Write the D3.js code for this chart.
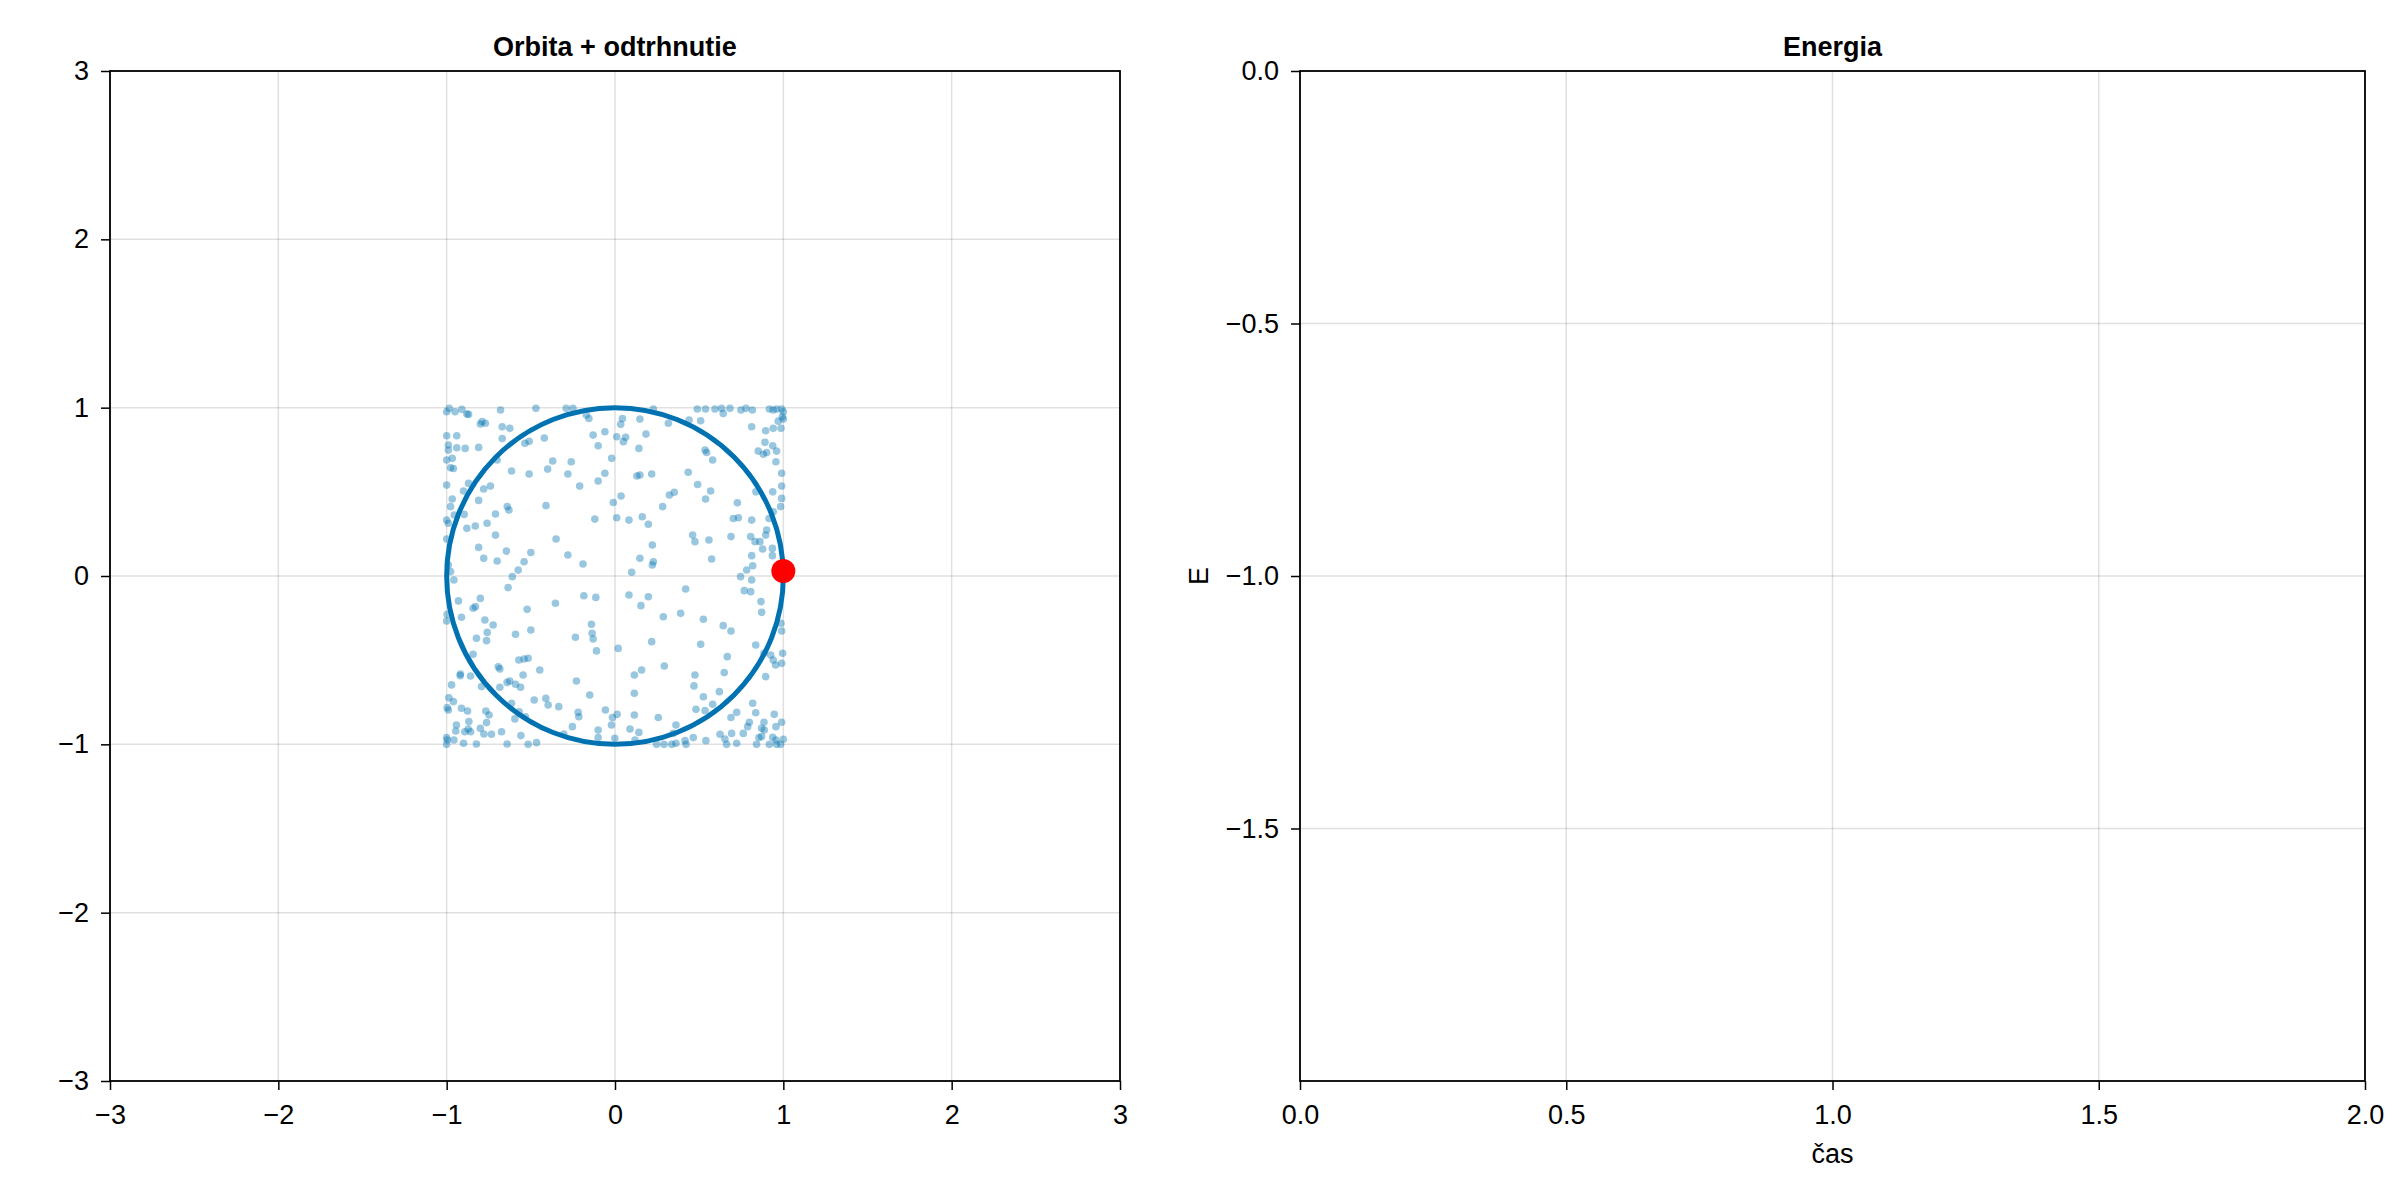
<!DOCTYPE html>
<html>
<head>
<meta charset="utf-8">
<script src="https://cdn.jsdelivr.net/npm/d3@7"></script>
<style>
  html, body { margin: 0; padding: 0; background: #fff; }
  svg { display: block; }
  text { font-family: "Liberation Sans", Arial, Helvetica, sans-serif; }
</style>
</head>
<body>
<svg id="chart" width="2400" height="1200"></svg>
<script>
// ---------------- DATA ----------------
const leftTitle = "Orbita + odtrhnutie";
const rightTitle = "Energia";
const rightXLabel = "čas";
const rightYLabel = "E";

const leftTicks = [-3, -2, -1, 0, 1, 2, 3];
const rightXTicks = [0, 0.5, 1, 1.5, 2];
const rightYTicks = [0, -0.5, -1, -1.5];

const orbitCenter = [0, 0];
const orbitRadius = 1;
const bodyPoint = [1.0, 0.03];

const scatterPoints = [
  [-1.00,0.976],[-0.985,0.996],[-0.95,0.976],[-0.91,0.99],[-0.88,0.962],[-0.87,0.96],[-0.68,0.986],[-0.47,0.996],
  [-0.29,0.996],[-0.25,0.996],[-0.17,0.956],[-0.155,0.936],[-0.80,0.903],[-0.79,0.917],[-0.77,0.907],[-0.67,0.887],
  [-0.625,0.877],[-1.00,0.833],[-0.94,0.833],[-0.67,0.817],[-0.99,0.778],[-0.99,0.748],[-0.94,0.762],[-0.89,0.758],
  [-0.81,0.764],[-0.535,0.788],[-0.51,0.80],[-0.42,0.82],[-0.13,0.837],[-0.06,0.857],[0.01,0.827],[-0.10,0.774],
  [-1.00,0.689],[-0.967,0.699],[-0.977,0.643],[-0.96,0.639],[-0.70,0.689],[-0.615,0.624],[-0.51,0.606],[-0.40,0.635],
  [-0.37,0.683],[-0.26,0.679],[-0.28,0.606],[-0.06,0.61],[-0.02,0.699],[-0.10,0.564],[-0.21,0.534],[-1.00,0.54],
  [-0.87,0.55],[-0.90,0.505],[-0.78,0.517],[-0.74,0.534],[-0.81,0.449],[-0.967,0.457],[-0.977,0.412],[-0.64,0.412],
  [-0.63,0.392],[-0.41,0.418],[-0.71,0.368],[-0.896,0.366],[-0.955,0.362],[-1.00,0.332],[-0.99,0.313],[-0.88,0.283],
  [-0.83,0.297],[-0.76,0.313],[-0.71,0.243],[-1.00,0.22],[-0.35,0.22],[-0.12,0.338],[-0.01,0.437],[0.01,0.346],
  [-0.81,0.17],[-0.645,0.148],[-0.50,0.14],[-0.28,0.125],[-0.78,0.105],[-0.70,0.089],[-0.54,0.085],[-0.19,0.071],
  [-0.575,0.035],[-0.61,-0.004],[-0.99,0.065],[-0.977,0.026],[-0.957,-0.024],

  [0.228,0.992],[0.489,0.992],[0.538,0.992],[0.594,0.992],[0.633,0.996],[0.643,0.966],[0.683,0.996],[0.748,0.986],
  [0.778,0.996],[0.816,0.986],[0.917,0.992],[0.94,0.986],[0.96,0.992],[0.99,0.992],[1.0,0.976],[0.994,0.946],
  [1.0,0.932],[0.97,0.92],[0.044,0.936],[0.034,0.901],[0.148,0.932],[0.317,0.907],[0.44,0.926],[0.509,0.922],
  [0.05,0.798],[0.063,0.824],[0.184,0.843],[0.142,0.758],[0.535,0.748],[0.544,0.734],[0.58,0.689],[0.812,0.887],
  [0.895,0.863],[0.94,0.877],[0.986,0.877],[0.891,0.794],[0.937,0.774],[0.96,0.742],[0.851,0.742],[0.881,0.723],
  [0.901,0.734],[0.956,0.679],[0.99,0.61],[0.13,0.594],[0.148,0.6],[0.218,0.606],[0.435,0.616],[0.491,0.544],
  [0.568,0.505],[0.538,0.457],[0.323,0.481],[0.352,0.497],[0.283,0.412],[0.036,0.475],[0.99,0.534],[0.937,0.5],
  [0.837,0.5],[0.99,0.461],[0.984,0.412],[0.94,0.382],[0.727,0.435],[0.703,0.342],[0.733,0.346],[0.812,0.332],
  [0.915,0.342],[0.083,0.332],[0.162,0.352],[0.198,0.307],[0.461,0.243],[0.475,0.204],[0.558,0.214],[0.689,0.234],
  [0.806,0.234],[0.832,0.204],[0.861,0.204],[0.901,0.273],[0.895,0.243],[0.877,0.16],[0.935,0.164],[0.222,0.184],
  [0.148,0.105],[0.228,0.085],[0.222,0.065],[0.574,0.101],[0.812,0.121],[0.935,0.121],[0.782,0.036],[0.818,0.061],
  [0.746,-0.004],[0.099,0.022],

  [-0.635,-0.069],[-0.185,-0.117],[-0.114,-0.127],[-0.80,-0.133],[-0.93,-0.148],[-0.843,-0.192],[-0.829,-0.182],
  [-0.522,-0.198],[-0.354,-0.162],[-0.997,-0.228],[-1.0,-0.267],[-0.912,-0.245],[-0.773,-0.261],[-0.724,-0.291],
  [-0.759,-0.335],[-0.763,-0.384],[-0.823,-0.37],[-0.591,-0.346],[-0.50,-0.321],[-0.235,-0.364],[-0.14,-0.287],
  [-0.136,-0.34],[-0.13,-0.374],[-0.11,-0.445],[0.019,-0.43],[-0.843,-0.465],[-0.694,-0.539],[-0.684,-0.552],
  [-0.571,-0.499],[-0.54,-0.493],[-0.516,-0.489],[-0.447,-0.558],[-0.918,-0.582],[-0.92,-0.592],[-0.858,-0.594],
  [-0.546,-0.588],[-0.625,-0.624],[-0.641,-0.632],[-0.591,-0.643],[-0.684,-0.661],[-0.561,-0.661],[-0.793,-0.657],
  [-0.971,-0.647],[-0.229,-0.624],[-0.15,-0.707],[-0.987,-0.723],[-0.96,-0.746],[-0.997,-0.782],[-0.99,-0.796],
  [-0.912,-0.786],[-0.876,-0.802],[-0.767,-0.802],[-0.748,-0.826],[-0.615,-0.756],[-0.48,-0.737],[-0.411,-0.727],
  [-0.397,-0.766],[-0.334,-0.776],[-0.569,-0.806],[-0.532,-0.836],[-0.595,-0.849],[-0.219,-0.81],[-0.215,-0.836],
  [-0.057,-0.796],[0.013,-0.822],[-0.015,-0.841],[-0.021,-0.885],[-0.868,-0.865],[-0.942,-0.885],[-0.763,-0.871],
  [-0.80,-0.905],[-0.872,-0.909],[-0.946,-0.921],[-0.892,-0.925],[-0.858,-0.925],[-0.779,-0.939],[-0.734,-0.94],
  [-0.674,-0.925],[-0.559,-0.948],[-0.304,-0.939],[-0.253,-0.895],[-0.10,-0.915],[-0.10,-0.96],[-0.001,-0.964],
  [-1.0,-0.96],[-0.997,-0.974],[-1.0,-1.0],[-0.957,-0.974],[-0.90,-0.994],[-0.823,-0.998],[-0.641,-0.998],
  [-0.516,-1.0],[-0.466,-0.99],

  [0.812,-0.024],[0.768,-0.087],[0.806,-0.093],[0.42,-0.077],[0.083,-0.113],[0.198,-0.123],[0.154,-0.176],
  [0.867,-0.152],[0.871,-0.216],[0.287,-0.242],[0.39,-0.222],[0.525,-0.257],[0.643,-0.295],[0.689,-0.327],
  [0.986,-0.281],[0.99,-0.327],[0.218,-0.39],[0.509,-0.406],[0.836,-0.41],[0.667,-0.479],[0.885,-0.459],
  [0.925,-0.469],[0.996,-0.459],[0.99,-0.519],[0.954,-0.529],[0.94,-0.499],[0.293,-0.535],[0.115,-0.588],
  [0.158,-0.558],[0.475,-0.588],[0.649,-0.574],[0.895,-0.598],[0.469,-0.653],[0.115,-0.697],[0.525,-0.717],
  [0.62,-0.687],[0.58,-0.762],[0.818,-0.756],[0.481,-0.792],[0.535,-0.8],[0.723,-0.81],[0.836,-0.812],
  [0.689,-0.841],[0.115,-0.826],[0.257,-0.841],[0.946,-0.822],[0.99,-0.869],[0.885,-0.869],[0.798,-0.869],
  [0.956,-0.895],[0.788,-0.895],[0.887,-0.915],[0.871,-0.905],[0.089,-0.909],[0.142,-0.929],[0.362,-0.885],
  [0.346,-0.935],[0.762,-0.935],[0.855,-0.96],[0.871,-0.954],[0.937,-0.958],[0.956,-0.974],[1.0,-0.97],
  [0.624,-0.94],[0.693,-0.935],[0.653,-0.968],[0.465,-0.96],[0.416,-0.978],[0.54,-0.978],[0.119,-0.974],
  [0.247,-1.0],[0.291,-1.0],[0.337,-1.0],[0.362,-0.994],[0.422,-1.0],[0.663,-1.0],[0.723,-0.994],[0.841,-1.0],
  [0.917,-1.0],[0.96,-1.0],[0.984,-1.0]
];

// ---------------- LAYOUT ----------------
const svg = d3.select("#chart");
svg.append("rect").attr("width", 2400).attr("height", 1200).attr("fill", "#fff");

const blue = "#0072B2";
const gridColor = "rgba(0,0,0,0.12)";
const fontSize = 27;

const L = { x0: 110, x1: 1120, y0: 71, y1: 1081 };
const R = { x0: 1300, x1: 2365, y0: 71, y1: 1081 };

const xL = d3.scaleLinear().domain([-3, 3]).range([L.x0, L.x1]);
const yL = d3.scaleLinear().domain([-3, 3]).range([L.y1, L.y0]);
const xR = d3.scaleLinear().domain([0, 2]).range([R.x0, R.x1]);
const yR = d3.scaleLinear().domain([-2, 0]).range([R.y1, R.y0]);

function grid(g, xs, ys, xt, yt, box) {
  g.selectAll(".gx").data(xt).enter().append("line")
    .attr("x1", d => xs(d)).attr("x2", d => xs(d))
    .attr("y1", box.y0).attr("y2", box.y1)
    .attr("stroke", gridColor).attr("stroke-width", 1.5);
  g.selectAll(".gy").data(yt).enter().append("line")
    .attr("x1", box.x0).attr("x2", box.x1)
    .attr("y1", d => ys(d)).attr("y2", d => ys(d))
    .attr("stroke", gridColor).attr("stroke-width", 1.5);
}

function styleAxis(g) {
  g.select(".domain").remove();
  g.selectAll(".tick line").attr("stroke", "#000").attr("stroke-width", 1.5);
  g.selectAll(".tick text").attr("fill", "#000")
    .style("font-size", fontSize + "px")
    .style("font-family", '"Liberation Sans", Arial, sans-serif');
}

function frame(box) {
  svg.append("rect")
    .attr("x", box.x0).attr("y", box.y0)
    .attr("width", box.x1 - box.x0).attr("height", box.y1 - box.y0)
    .attr("fill", "none").attr("stroke", "#000").attr("stroke-width", 1.8);
}

// ---------------- LEFT PANEL ----------------
const gl = svg.append("g");
grid(gl, xL, yL, leftTicks, leftTicks, L);

const intFmt = d3.format("d");

gl.append("g").selectAll("circle").data(scatterPoints).enter().append("circle")
  .attr("cx", d => xL(d[0])).attr("cy", d => yL(d[1]))
  .attr("r", 3.8)
  .attr("fill", blue).attr("fill-opacity", 0.4);

gl.append("circle")
  .attr("cx", xL(orbitCenter[0])).attr("cy", yL(orbitCenter[1]))
  .attr("r", xL(orbitRadius) - xL(0))
  .attr("fill", "none").attr("stroke", blue).attr("stroke-width", 5);

gl.append("circle")
  .attr("cx", xL(bodyPoint[0])).attr("cy", yL(bodyPoint[1]))
  .attr("r", 12).attr("fill", "#FF0000");

frame(L);

svg.append("g").attr("transform", `translate(0,${L.y1})`)
  .call(d3.axisBottom(xL).tickValues(leftTicks).tickFormat(intFmt).tickSize(9).tickSizeOuter(0).tickPadding(15))
  .call(styleAxis);
svg.append("g").attr("transform", `translate(${L.x0},0)`)
  .call(d3.axisLeft(yL).tickValues(leftTicks).tickFormat(intFmt).tickSize(9).tickSizeOuter(0).tickPadding(12))
  .call(styleAxis);

svg.append("text")
  .attr("x", (L.x0 + L.x1) / 2).attr("y", 56)
  .attr("text-anchor", "middle")
  .style("font-size", fontSize + "px").style("font-weight", "bold")
  .text(leftTitle);

// ---------------- RIGHT PANEL ----------------
const gr = svg.append("g");
grid(gr, xR, yR, rightXTicks, rightYTicks, R);
frame(R);

svg.append("g").attr("transform", `translate(0,${R.y1})`)
  .call(d3.axisBottom(xR).tickValues(rightXTicks).tickFormat(d3.format(".1f")).tickSize(9).tickSizeOuter(0).tickPadding(15))
  .call(styleAxis);
svg.append("g").attr("transform", `translate(${R.x0},0)`)
  .call(d3.axisLeft(yR).tickValues(rightYTicks).tickFormat(d3.format(".1f")).tickSize(9).tickSizeOuter(0).tickPadding(12))
  .call(styleAxis);

svg.append("text")
  .attr("x", (R.x0 + R.x1) / 2).attr("y", 56)
  .attr("text-anchor", "middle")
  .style("font-size", fontSize + "px").style("font-weight", "bold")
  .text(rightTitle);

svg.append("text")
  .attr("x", (R.x0 + R.x1) / 2).attr("y", 1163)
  .attr("text-anchor", "middle")
  .style("font-size", fontSize + "px")
  .text(rightXLabel);

svg.append("text")
  .attr("transform", `translate(1208,${(R.y0 + R.y1) / 2}) rotate(-90)`)
  .attr("text-anchor", "middle")
  .style("font-size", fontSize + "px")
  .text(rightYLabel);
</script>
</body>
</html>
